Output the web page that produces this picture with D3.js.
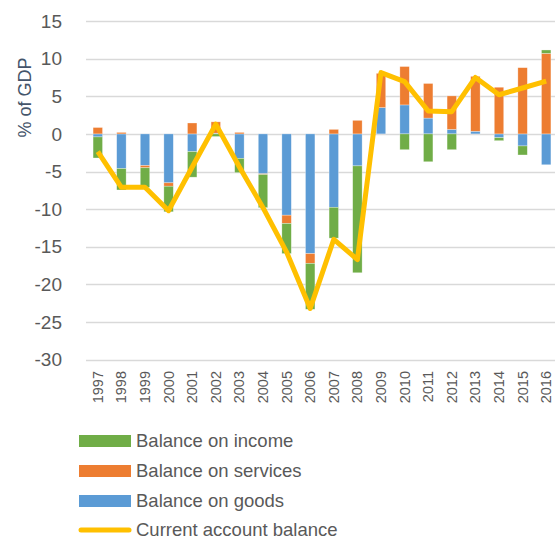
<!DOCTYPE html>
<meta charset="utf-8" />
<style>
  body { margin: 0; background: #fff; }
  svg { display: block; font-family: "Liberation Sans", Arial, sans-serif; }
  .tick-y { font-size: 19px; fill: #595959; }
  .tick-x { font-size: 14.5px; fill: #595959; }
  .legend { font-size: 18.5px; fill: #595959; }
</style>
<body>
  <script src="https://d3js.org/d3.v7.min.js"></script>
  <script>
    // values, % of GDP
    var years = [1997, 1998, 1999, 2000, 2001, 2002, 2003, 2004, 2005, 2006,
                 2007, 2008, 2009, 2010, 2011, 2012, 2013, 2014, 2015, 2016];
    var goods = [-0.4, -4.6, -4.2, -6.5, -2.35, 0.1, -3.25, -5.3, -10.8, -15.9,
                 -9.75, -4.25, 3.5, 3.85, 2.1, 0.6, 0.35, -0.5, -1.6, -4.1];
    var services = [0.85, 0.2, -0.3, -0.45, 1.45, 1.5, 0.2, -0.1, -1.1, -1.3,
                    0.6, 1.8, 4.55, 5.1, 4.6, 4.45, 7.3, 6.2, 8.8, 10.7];
    var income = [-2.8, -2.85, -2.6, -3.4, -3.4, -0.35, -1.9, -4.4, -4.0, -6.1,
                  -4.1, -14.2, 0, -2.1, -3.7, -2.1, 0, -0.4, -1.2, 0.45];
    var current = [-2.35, -7.1, -7.1, -10.2, -4.4, 1.3, -4.4, -9.8, -15.7, -23.2,
                   -14.0, -16.7, 8.15, 6.95, 3.05, 2.95, 7.5, 5.2, 6.1, 7.0];
    var yTicks = [15, 10, 5, 0, -5, -10, -15, -20, -25, -30];

    var width = 555,
      height = 542;

    var colors = { goods: "#5B9BD5", services: "#ED7D31", income: "#70AD47" };
    var lineColor = "#FFC000";

    var table = years.map(function(y, i) {
      return { year: y, goods: goods[i], services: services[i], income: income[i] };
    });

    var svg = d3
      .select("body")
      .append("svg")
      .attr("width", width)
      .attr("height", height);

    var x = d3
      .scaleBand()
      .domain(years)
      .range([86, 558])
      .paddingInner(0.6)
      .paddingOuter(0.3);

    var y = d3.scaleLinear().domain([-30, 15]).range([359.7, 21]);

    //gridlines
    svg
      .selectAll(".grid")
      .data(yTicks)
      .enter()
      .append("line")
      .attr("x1", 86)
      .attr("x2", width)
      .attr("y1", function(d) { return Math.round(y(d)) + 0.5; })
      .attr("y2", function(d) { return Math.round(y(d)) + 0.5; })
      .style("stroke", "#D9D9D9")
      .style("stroke-width", 1.5);

    //y tick labels
    svg
      .selectAll(".tick-y")
      .data(yTicks)
      .enter()
      .append("text")
      .attr("class", "tick-y")
      .attr("x", 62)
      .attr("y", function(d) { return y(d); })
      .attr("dy", "0.35em")
      .attr("text-anchor", "end")
      .text(function(d) { return d; });

    //axis title
    svg
      .append("text")
      .attr("transform", "translate(31,97.5) rotate(-90)")
      .attr("text-anchor", "middle")
      .style("font-size", "18px")
      .style("fill", "#44546A")
      .text("% of GDP");

    //x labels
    svg
      .selectAll(".tick-x")
      .data(years)
      .enter()
      .append("text")
      .attr("class", "tick-x")
      .attr("transform", function(d) {
        return "translate(" + (x(d) + x.bandwidth() / 2) + ",371) rotate(-90)";
      })
      .attr("dy", "0.35em")
      .attr("text-anchor", "end")
      .text(function(d) { return d; });

    //stacked bars
    var series = d3
      .stack()
      .keys(["goods", "services", "income"])
      .offset(d3.stackOffsetDiverging)(table);

    svg
      .selectAll(".series")
      .data(series)
      .enter()
      .append("g")
      .style("fill", function(d) { return colors[d.key]; })
      .selectAll("rect")
      .data(function(d) { return d; })
      .enter()
      .append("rect")
      .attr("x", function(d) { return x(d.data.year); })
      .attr("width", x.bandwidth())
      .attr("y", function(d) { return y(d[1]); })
      .attr("height", function(d) { return y(d[0]) - y(d[1]); })
      .style("stroke", "#fff")
      .style("stroke-opacity", 0.5)
      .style("stroke-width", 0.6);

    //current account line
    var line = d3
      .line()
      .x(function(d, i) { return x(years[i]) + x.bandwidth() / 2; })
      .y(function(d) { return y(d); });

    svg
      .append("path")
      .datum(current)
      .attr("d", line)
      .style("fill", "none")
      .style("stroke", lineColor)
      .style("stroke-width", 5)
      .style("stroke-linejoin", "round");

    //legend
    var legendItems = [
      { label: "Balance on income", key: "income" },
      { label: "Balance on services", key: "services" },
      { label: "Balance on goods", key: "goods" },
      { label: "Current account balance", key: "line" }
    ];

    var legend = svg
      .selectAll(".legend")
      .data(legendItems)
      .enter()
      .append("g")
      .attr("transform", function(d, i) {
        return "translate(79," + (441 + 30 * i - (i == 3 ? 1 : 0)) + ")";
      });

    legend.each(function(d) {
      var g = d3.select(this);
      if (d.key == "line") {
        g.append("line")
          .attr("x1", 2)
          .attr("x2", 50)
          .style("stroke", lineColor)
          .style("stroke-width", 5)
          .style("stroke-linecap", "round");
      } else {
        g.append("rect")
          .attr("y", -6)
          .attr("width", 52)
          .attr("height", 12)
          .style("fill", colors[d.key]);
      }
    });

    legend
      .append("text")
      .attr("class", "legend")
      .attr("x", 57)
      .attr("dy", "0.35em")
      .text(function(d) { return d.label; });
  </script>
</body>
